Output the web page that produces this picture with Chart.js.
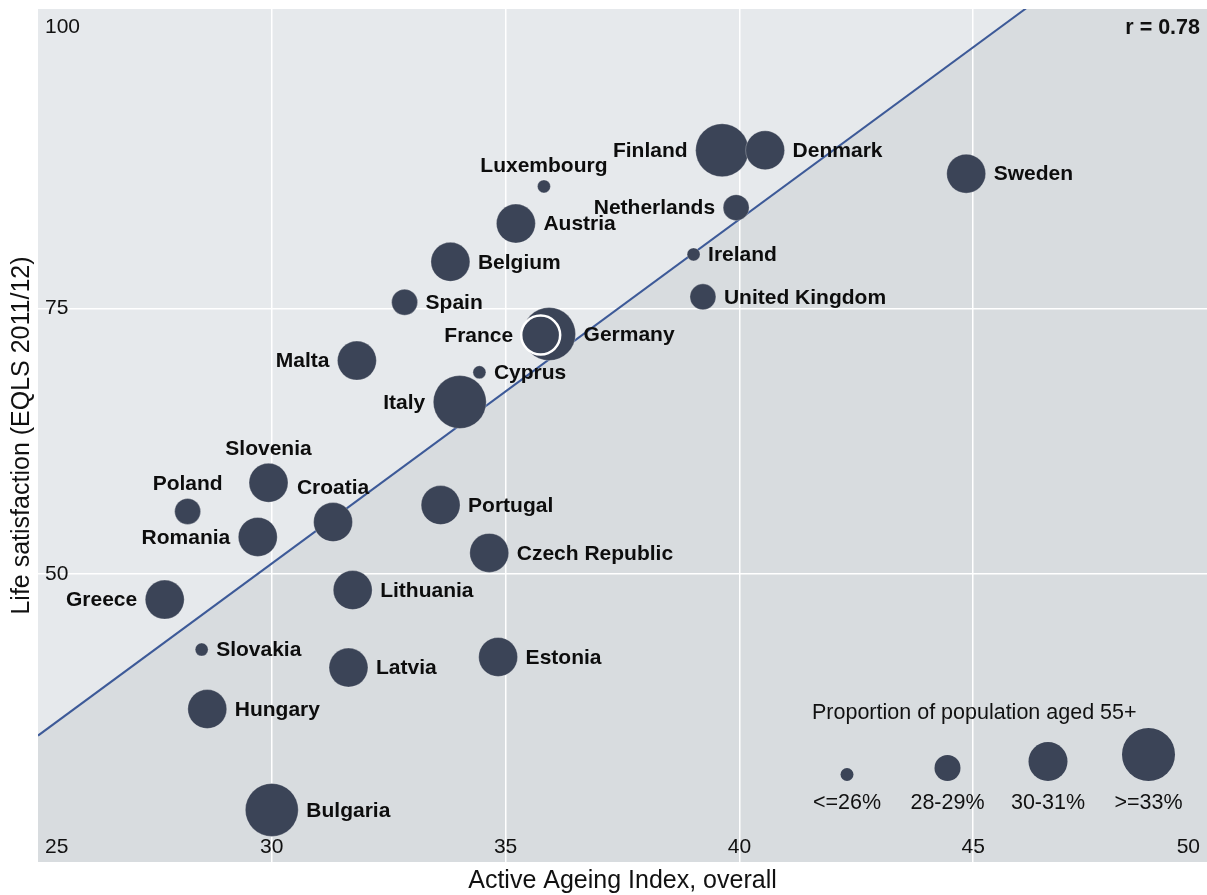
<!DOCTYPE html>
<html>
<head>
<meta charset="utf-8">
<script src="https://cdn.jsdelivr.net/npm/chart.js@4.4.1/dist/chart.umd.min.js"></script>
<style>
  html, body { margin: 0; padding: 0; background: #fff; }
  #wrap { width: 1207px; height: 895px; }
</style>
</head>
<body>
<div id="wrap"><canvas id="chart" width="1207" height="895"></canvas></div>
<script>
// values
const countries = ['Finland', 'Denmark', 'Luxembourg', 'Sweden', 'Netherlands', 'Austria', 'Ireland', 'Belgium',
  'Spain', 'United Kingdom', 'Germany', 'France', 'Malta', 'Cyprus', 'Italy', 'Slovenia', 'Poland', 'Croatia',
  'Portugal', 'Romania', 'Czech Republic', 'Lithuania', 'Greece', 'Slovakia', 'Latvia', 'Estonia', 'Hungary', 'Bulgaria'];
const activeAgeing = [39.63, 40.55, 35.82, 44.85, 39.93, 35.22, 39.02, 33.82, 32.84, 39.22, 35.93, 35.75, 31.82, 34.44,
  34.02, 29.93, 28.20, 31.31, 33.61, 29.70, 34.65, 31.73, 27.71, 28.50, 31.64, 34.84, 28.62, 30.00];
const lifeSatisfaction = [89.9, 89.9, 86.5, 87.7, 84.5, 83.0, 80.1, 79.4, 75.6, 76.1, 72.6, 72.5, 70.1, 69.0,
  66.2, 58.6, 55.9, 54.9, 56.5, 53.5, 52.0, 48.5, 47.6, 42.9, 41.2, 42.2, 37.3, 27.8];
// 0: <=26%, 1: 28-29%, 2: 30-31%, 3: >=33%
const ageGroup = [3, 2, 0, 2, 1, 2, 0, 2, 1, 1, 3, 2, 2, 0, 3, 2, 1, 2, 2, 2, 2, 2, 2, 0, 2, 2, 2, 3];
const ageGroupLabels = ['<=26%', '28-29%', '30-31%', '>=33%'];
const fitX = [25, 50];
const fitY = [34.8, 115.8];
const xTicks = [25, 30, 35, 40, 45, 50];
const yTicks = [50, 75, 100];
const yGrid = [50, 75];
const rText = 'r = 0.78';

// where each country name sits
const labelSide = ['left', 'right', 'top', 'right', 'left', 'right', 'right', 'right', 'right', 'right', 'right', 'left',
  'left', 'right', 'left', 'top', 'top', 'top', 'right', 'left', 'right', 'right', 'left', 'right', 'right', 'right', 'right', 'right'];

const groupRadius = [6.5, 13, 19.5, 26.5];
const bubbleColor = '#3b4457';
const lightBg = '#e6e9ec';
const darkBg = '#d8dcdf';
const FONT = '"Liberation Sans", Arial, Helvetica, sans-serif';

const fitData = fitX.map((x, i) => ({ x: x, y: fitY[i] }));

const tickLabels = {
    id: 'tickLabels',
    afterDraw(chart) {
        const { ctx, chartArea: a, scales } = chart;
        ctx.save();
        ctx.fillStyle = '#111';
        ctx.font = '21px ' + FONT;
        ctx.textBaseline = 'middle';
        xTicks.forEach((v, i) => {
            const px = scales.x.getPixelForValue(v);
            if (i === 0) { ctx.textAlign = 'left'; ctx.fillText(v, a.left + 7, a.bottom - 15); }
            else if (i === xTicks.length - 1) { ctx.textAlign = 'right'; ctx.fillText(v, a.right - 7, a.bottom - 15); }
            else { ctx.textAlign = 'center'; ctx.fillText(v, px, a.bottom - 15); }
        });
        ctx.textAlign = 'left';
        yTicks.forEach((v, i) => {
            // top label is pinned to the upper edge of the plot
            const py = i === yTicks.length - 1 ? a.top + 18.5 : scales.y.getPixelForValue(v);
            ctx.fillText(v, a.left + 7, py);
        });
        ctx.font = 'bold 21.5px ' + FONT;
        ctx.textAlign = 'right';
        ctx.fillText(rText, a.right - 7, a.top + 19);
        ctx.restore();
    }
};

const countryLabels = {
    id: 'countryLabels',
    afterDatasetsDraw(chart) {
        const { ctx } = chart;
        const meta = chart.getDatasetMeta(0);
        ctx.save();
        ctx.fillStyle = '#0d0d0d';
        ctx.font = 'bold 21px ' + FONT;
        ctx.textBaseline = 'middle';
        meta.data.forEach((el, i) => {
            const r = el.options.radius;
            const side = labelSide[i];
            if (side === 'left') {
                ctx.textAlign = 'right';
                ctx.fillText(countries[i], el.x - r - 8, el.y + 1);
            } else if (side === 'top') {
                ctx.textAlign = 'center';
                ctx.fillText(countries[i], el.x, el.y - r - 14);
            } else {
                ctx.textAlign = 'left';
                ctx.fillText(countries[i], el.x + r + 8, el.y + 1);
            }
        });
        ctx.restore();
    }
};

const sizeLegend = {
    id: 'sizeLegend',
    afterDraw(chart) {
        const { ctx, chartArea: a } = chart;
        ctx.save();
        ctx.fillStyle = '#111';
        ctx.font = '21.5px ' + FONT;
        ctx.textBaseline = 'middle';
        ctx.textAlign = 'left';
        ctx.fillText('Proportion of population aged 55+', a.right - 395, a.bottom - 149);
        ctx.textAlign = 'center';
        ageGroupLabels.forEach((lab, i) => {
            const cx = a.right - 360 + i * 100.5;
            const r = groupRadius[i];
            ctx.fillStyle = bubbleColor;
            ctx.beginPath();
            ctx.arc(cx, a.bottom - 81 - r, r, 0, Math.PI * 2);
            ctx.fill();
            ctx.fillStyle = '#111';
            ctx.fillText(lab, cx, a.bottom - 59);
        });
        ctx.restore();
    }
};

new Chart(document.getElementById('chart'), {
    data: {
        datasets: [
            {
                type: 'bubble',
                order: 0,
                data: countries.map((c, i) => ({ x: activeAgeing[i], y: lifeSatisfaction[i], r: groupRadius[ageGroup[i]] })),
                backgroundColor: bubbleColor,
                borderColor: countries.map(c => c === 'France' ? '#ffffff' : 'rgba(255,255,255,0.35)'),
                borderWidth: countries.map(c => c === 'France' ? 2.5 : 0.8)
            },
            {
                type: 'line',
                order: 1,
                data: fitData,
                borderColor: '#3d5a98',
                borderWidth: 2,
                pointRadius: 0,
                backgroundColor: lightBg,
                fill: 'end'
            },
            {
                type: 'line',
                order: 2,
                data: fitData,
                borderWidth: 0,
                pointRadius: 0,
                backgroundColor: darkBg,
                fill: 'start'
            }
        ]
    },
    options: {
        responsive: false,
        animation: false,
        events: [],
        layout: { autoPadding: false, padding: { top: 9, left: 0, right: 0, bottom: 0 } },
        plugins: {
            legend: { display: false },
            tooltip: { enabled: false },
            filler: { drawTime: 'beforeDraw' }
        },
        scales: {
            x: {
                type: 'linear',
                min: 25,
                max: 50,
                afterBuildTicks: axis => { axis.ticks = xTicks.map(v => ({ value: v })); },
                ticks: { display: false },
                border: { display: false },
                grid: {
                    drawTicks: false,
                    lineWidth: 1.5,
                    color: c => (c.tick && c.tick.value > 25 && c.tick.value < 50) ? '#ffffff' : 'rgba(0,0,0,0)'
                },
                title: {
                    display: true,
                    text: 'Active Ageing Index, overall',
                    color: '#111',
                    font: { family: FONT, size: 25, lineHeight: 1 },
                    padding: { top: 6.5, bottom: 1.5 }
                }
            },
            y: {
                type: 'linear',
                min: 22.9,
                max: 103.2,
                afterBuildTicks: axis => { axis.ticks = yTicks.map(v => ({ value: v })); },
                ticks: { display: false },
                border: { display: false },
                grid: {
                    drawTicks: false,
                    lineWidth: 1.5,
                    color: c => (c.tick && yGrid.includes(c.tick.value)) ? '#ffffff' : 'rgba(0,0,0,0)'
                },
                title: {
                    display: true,
                    text: 'Life satisfaction (EQLS 2011/12)',
                    color: '#111',
                    font: { family: FONT, size: 25, lineHeight: 1 },
                    padding: { top: 9.5, bottom: 3.5 }
                }
            }
        }
    },
    plugins: [countryLabels, tickLabels, sizeLegend]
});
</script>
</body>
</html>
